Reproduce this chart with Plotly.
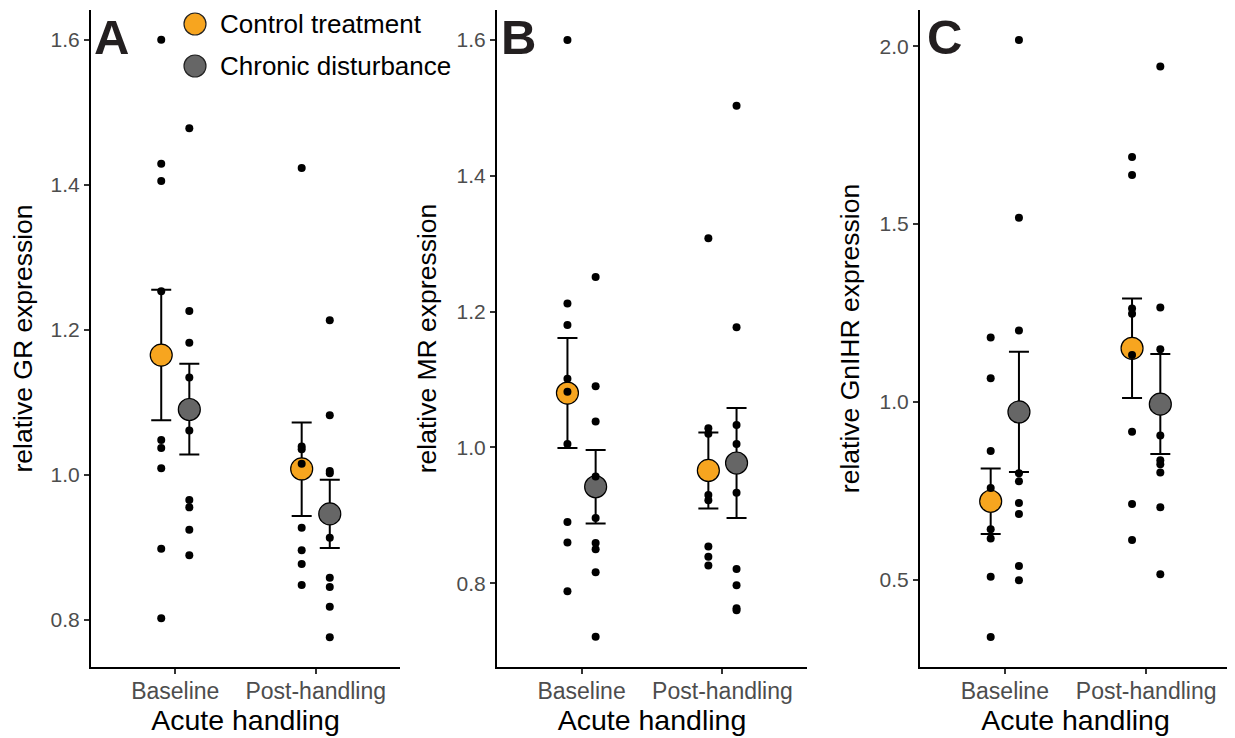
import plotly.graph_objects as go

# ---------------- data ----------------
groups = ["Baseline", "Post-handling"]
treatments = ["Control treatment", "Chronic disturbance"]
x_title = "Acute handling"
panel_letters = ["A", "B", "C"]
y_titles = ["relative GR expression", "relative MR expression", "relative GnIHR expression"]

# Panel A: GR
GR_baseline_control = [1.600, 1.429, 1.405, 1.253, 1.048, 1.037, 1.009, 0.898, 0.802]
GR_baseline_chronic = [1.478, 1.226, 1.182, 1.134, 1.061, 0.965, 0.955, 0.924, 0.889]
GR_post_control = [1.423, 1.039, 1.035, 1.015, 0.927, 0.896, 0.877, 0.848]
GR_post_chronic = [1.213, 1.082, 1.005, 1.002, 0.913, 0.858, 0.845, 0.818, 0.776]
GR_mean_control = [1.165, 1.008]
GR_mean_chronic = [1.090, 0.946]
GR_upper_control = [1.255, 1.072]
GR_upper_chronic = [1.153, 0.993]
GR_lower_control = [1.075, 0.943]
GR_lower_chronic = [1.028, 0.899]

# Panel B: MR
MR_baseline_control = [1.600, 1.212, 1.180, 1.101, 1.082, 1.005, 0.890, 0.860, 0.788]
MR_baseline_chronic = [1.251, 1.090, 1.038, 0.957, 0.896, 0.859, 0.850, 0.816, 0.721]
MR_post_control = [1.308, 1.028, 1.020, 0.930, 0.922, 0.854, 0.839, 0.826]
MR_post_chronic = [1.503, 1.177, 1.033, 1.005, 0.933, 0.821, 0.797, 0.763, 0.760]
MR_mean_control = [1.080, 0.966]
MR_mean_chronic = [0.942, 0.977]
MR_upper_control = [1.161, 1.022]
MR_upper_chronic = [0.996, 1.058]
MR_lower_control = [0.999, 0.910]
MR_lower_chronic = [0.888, 0.896]

# Panel C: GnIHR
GnIHR_baseline_control = [1.181, 1.067, 0.862, 0.758, 0.642, 0.616, 0.509, 0.339]
GnIHR_baseline_chronic = [2.018, 1.518, 1.201, 0.800, 0.777, 0.716, 0.685, 0.539, 0.499]
GnIHR_post_control = [1.689, 1.638, 1.263, 1.248, 1.132, 0.916, 0.713, 0.612]
GnIHR_post_chronic = [1.943, 1.266, 1.148, 0.906, 0.836, 0.825, 0.802, 0.704, 0.516]
GnIHR_mean_control = [0.721, 1.151]
GnIHR_mean_chronic = [0.972, 0.994]
GnIHR_upper_control = [0.813, 1.291]
GnIHR_upper_chronic = [1.141, 1.135]
GnIHR_lower_control = [0.629, 1.011]
GnIHR_lower_chronic = [0.803, 0.854]

y_ticks = [[0.8, 1.0, 1.2, 1.4, 1.6], [0.8, 1.0, 1.2, 1.4, 1.6], [0.5, 1.0, 1.5, 2.0]]

# ---------------- style ----------------
FONT = "Liberation Sans, Arial, Helvetica, sans-serif"
colors = ["#F7A51F", "#666666"]
PAGE_OFF = 8               # default body margin of the html page
W, H = 1235 - PAGE_OFF, 738 - PAGE_OFF
dodge = 0.1


def px_x(px):
    return (px - PAGE_OFF) / W


def px_y(py):
    return 1 - (py - PAGE_OFF) / H


panels = [
    dict(raw=[[GR_baseline_control, GR_post_control], [GR_baseline_chronic, GR_post_chronic]],
         mean=[GR_mean_control, GR_mean_chronic],
         upper=[GR_upper_control, GR_upper_chronic],
         lower=[GR_lower_control, GR_lower_chronic],
         xpx=(91, 400), yrange=[0.7348, 1.641]),
    dict(raw=[[MR_baseline_control, MR_post_control], [MR_baseline_chronic, MR_post_chronic]],
         mean=[MR_mean_control, MR_mean_chronic],
         upper=[MR_upper_control, MR_upper_chronic],
         lower=[MR_lower_control, MR_lower_chronic],
         xpx=(497, 807), yrange=[0.6766, 1.644]),
    dict(raw=[[GnIHR_baseline_control, GnIHR_post_control], [GnIHR_baseline_chronic, GnIHR_post_chronic]],
         mean=[GnIHR_mean_control, GnIHR_mean_chronic],
         upper=[GnIHR_upper_control, GnIHR_upper_chronic],
         lower=[GnIHR_lower_control, GnIHR_lower_chronic],
         xpx=(920, 1231), yrange=[0.255, 2.102]),
]
letter_px = [92, 499, 925]
ydom = [px_y(667), px_y(10)]

fig = go.Figure()
layout = dict(
    width=W, height=H,
    margin=dict(l=0, r=0, t=0, b=0),
    paper_bgcolor="white", plot_bgcolor="white",
    showlegend=False,
    font=dict(family=FONT, color="black"),
    annotations=[], shapes=[],
)

for p, panel in enumerate(panels):
    sfx = "" if p == 0 else str(p + 1)
    xa, ya = "x" + sfx, "y" + sfx
    # mean + error bars
    for t in range(2):
        off = -dodge if t == 0 else dodge
        xs = [i + 1 + off for i in range(len(groups))]
        m = panel["mean"][t]
        up = [u - mm for u, mm in zip(panel["upper"][t], m)]
        lo = [mm - l for l, mm in zip(panel["lower"][t], m)]
        fig.add_trace(go.Scatter(
            x=xs, y=m, mode="markers", name=treatments[t], xaxis=xa, yaxis=ya,
            marker=dict(size=22, color=colors[t], line=dict(color="black", width=1.2)),
            error_y=dict(type="data", symmetric=False, array=up, arrayminus=lo,
                         color="black", thickness=2, width=10),
            hoverinfo="skip",
        ))
    # raw points
    for t in range(2):
        off = -dodge if t == 0 else dodge
        xs, ys = [], []
        for g in range(len(groups)):
            vals = panel["raw"][t][g]
            xs += [g + 1 + off] * len(vals)
            ys += vals
        fig.add_trace(go.Scatter(
            x=xs, y=ys, mode="markers", xaxis=xa, yaxis=ya,
            marker=dict(size=8, color="black"), hoverinfo="skip", showlegend=False,
        ))

    x0, x1 = panel["xpx"]
    layout["xaxis" + sfx] = dict(
        domain=[px_x(x0), px_x(x1)], anchor=ya, range=[0.4, 2.6],
        tickmode="array", tickvals=[1, 2], ticktext=groups,
        showline=True, linecolor="black", linewidth=2,
        ticks="outside", ticklen=5, tickwidth=1.5, tickcolor="#333333",
        tickfont=dict(size=23, color="#4D4D4D", family=FONT),
        ticklabelstandoff=-3,
        showgrid=False, zeroline=False,
        title=dict(text=x_title, font=dict(size=28.5, color="black", family=FONT), standoff=2),
    )
    layout["yaxis" + sfx] = dict(
        domain=ydom, anchor=xa, range=panel["yrange"],
        tickmode="array", tickvals=y_ticks[p], tickformat=".1f",
        showline=True, linecolor="black", linewidth=2,
        ticks="outside", ticklen=5, tickwidth=1.5, tickcolor="#333333",
        tickfont=dict(size=21, color="#4D4D4D", family=FONT),
        showgrid=False, zeroline=False,
        title=dict(text=y_titles[p], font=dict(size=26.5, color="black", family=FONT), standoff=12),
    )
    layout["annotations"].append(dict(
        text="<b>%s</b>" % panel_letters[p], xref="paper", yref="paper",
        x=px_x(letter_px[p]), y=1, xanchor="left", yanchor="top",
        showarrow=False, font=dict(size=49, color="#231F20", family=FONT),
    ))

# legend (drawn manually to reproduce large keys)
leg_x = px_x(195)
leg_y = [px_y(24), px_y(66)]
for t in range(2):
    layout["shapes"].append(dict(
        type="circle", xref="paper", yref="paper", xsizemode="pixel", ysizemode="pixel",
        xanchor=leg_x, yanchor=leg_y[t], x0=-11, x1=11, y0=-11, y1=11,
        fillcolor=colors[t], line=dict(color="#222222", width=1.2),
    ))
    layout["annotations"].append(dict(
        text=treatments[t], xref="paper", yref="paper",
        x=px_x(218), y=leg_y[t], xanchor="left", yanchor="middle",
        showarrow=False, font=dict(size=26, color="black", family=FONT),
    ))

fig.update_layout(**layout)
fig.write_html("out.html")
